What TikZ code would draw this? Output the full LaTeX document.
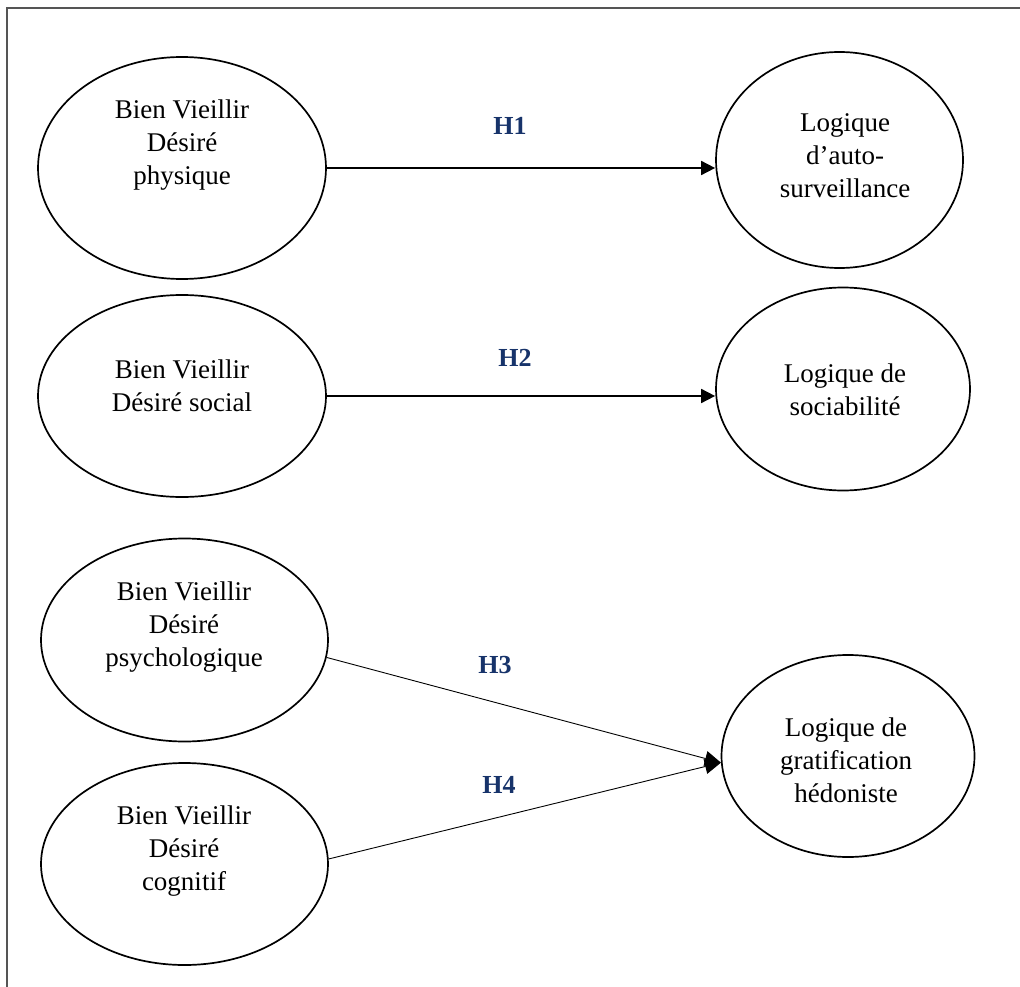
\documentclass[tikz,border=0pt]{standalone}
\usepackage{fontspec}
\setmainfont{Liberation Serif}
\usetikzlibrary{shapes.geometric,arrows.meta}
\definecolor{hblue}{HTML}{17336A}
\definecolor{framegray}{HTML}{555555}
\begin{document}
\begin{tikzpicture}[x=1pt,y=-1pt,
  oval/.style={draw=black,line width=1.7pt,ellipse,inner sep=0pt},
  lbl/.style={align=center,font=\fontsize{27}{33}\selectfont,inner sep=0pt},
  hyp/.style={text=hblue,font=\fontsize{26}{30}\selectfont\bfseries,inner sep=0pt},
  thick arrow/.style={line width=1.7pt,-{Triangle[length=14pt,width=14pt]}},
  thin arrow/.style={line width=0.9pt,-{Triangle[length=16pt,width=15pt]}}]
\path[use as bounding box] (0,0) rectangle (1020,987);
\draw[framegray,line width=1.2pt] (7,987) -- (7,8) -- (1020,8);

% left ellipses
\node[oval,minimum width=288pt,minimum height=222pt] (e1) at (182,168) {};
\node[oval,minimum width=288pt,minimum height=202pt] (e2) at (182,396) {};
\node[oval,minimum width=287pt,minimum height=203pt] (e3) at (184.5,640) {};
\node[oval,minimum width=287pt,minimum height=202pt] (e4) at (184.5,864) {};
% right ellipses
\node[oval,minimum width=247pt,minimum height=216pt] (r1) at (839.5,160) {};
\node[oval,minimum width=254pt,minimum height=203pt] (r2) at (843,389) {};
\node[oval,minimum width=253pt,minimum height=202pt] (r3) at (848,756) {};

% texts
\node[lbl] (t1) at (182,145) {Bien Vieillir\\Désiré\\physique};
\node[lbl] (t2) at (182,386) {Bien Vieillir\\Désiré social};
\node[lbl] (t3) at (184,627) {Bien Vieillir\\Désiré\\psychologique};
\node[lbl] (t4) at (184,851) {Bien Vieillir\\Désiré\\cognitif};
\node[lbl] (u1) at (845,156) {Logique\\d’auto-\\surveillance};
\node[lbl] (u2) at (845,390) {Logique de\\sociabilité};
\node[lbl] (u3) at (846,760) {Logique de\\gratification\\hédoniste};

% connectors
\draw[thick arrow] (e1.east) -- (e1.east -| r1.west);
\draw[thick arrow] (e2.east) -- (e2.east -| r2.west);
\draw[thin arrow] (e3.-7) -- (r3.183);
\draw[thin arrow] (e4.2) -- (r3.183);

% hypothesis labels
\node[hyp] (h1) at (510,126) {H1};
\node[hyp] (h2) at (515,358) {H2};
\node[hyp] (h3) at (495,665) {H3};
\node[hyp] (h4) at (499,785) {H4};
\end{tikzpicture}
\end{document}
